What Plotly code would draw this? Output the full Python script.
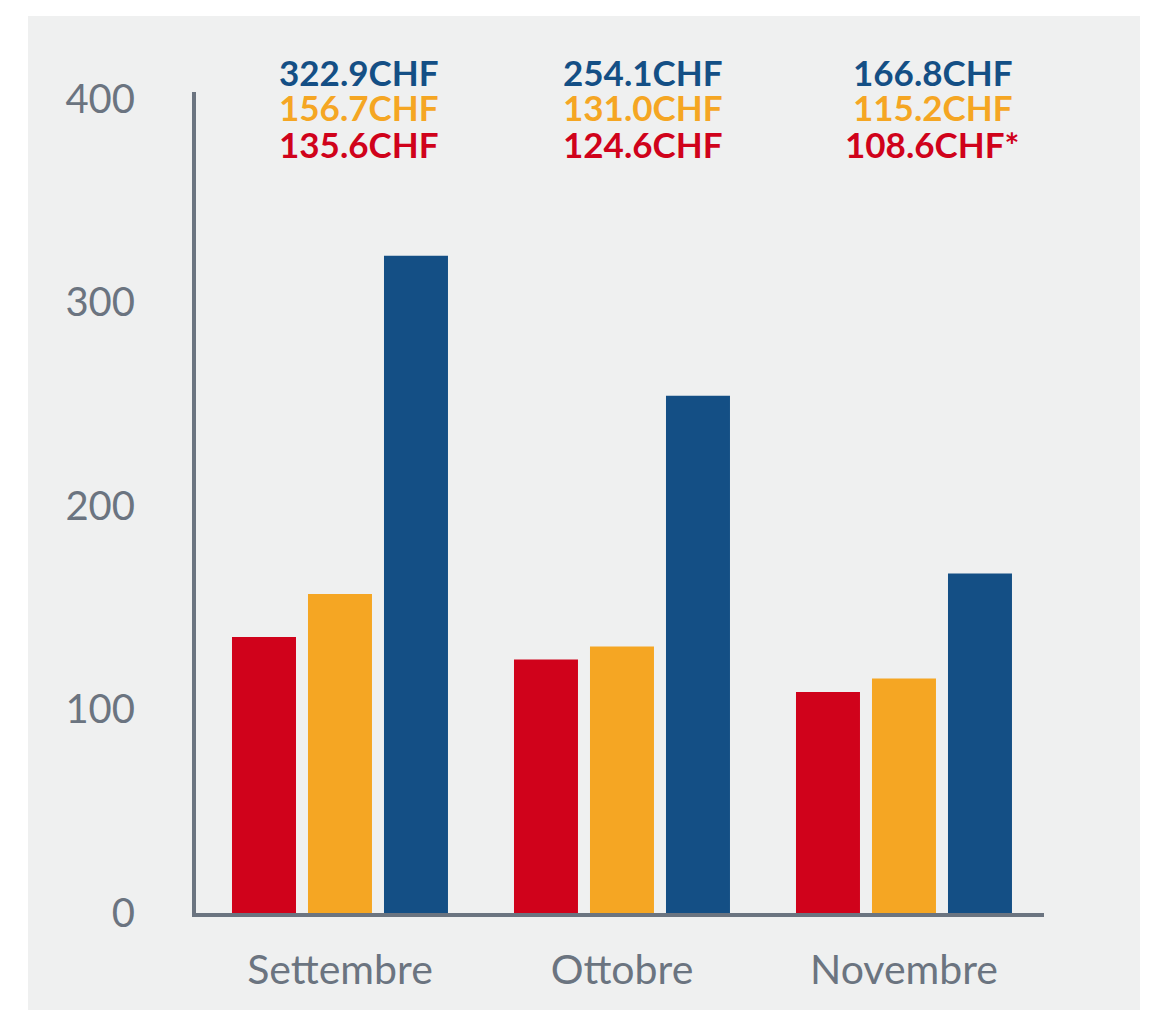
import plotly.graph_objects as go

months = ["Settembre", "Ottobre", "Novembre"]
series_names = ["Rosso", "Arancio", "Blu"]
red_vals = [135.6, 124.6, 108.6]
orange_vals = [156.7, 131.0, 115.2]
blue_vals = [322.9, 254.1, 166.8]
red_labels = ["135.6CHF", "124.6CHF", "108.6CHF*"]
orange_labels = ["156.7CHF", "131.0CHF", "115.2CHF"]
blue_labels = ["322.9CHF", "254.1CHF", "166.8CHF"]
y_ticks = [0, 100, 200, 300, 400]

RED = "#d0021b"
ORANGE = "#f5a623"
BLUE = "#144f85"
AXIS = "#6b7480"
PANEL = "#eff0f0"

fig = go.Figure()
for name, vals, col in [(series_names[0], red_vals, RED),
                        (series_names[1], orange_vals, ORANGE),
                        (series_names[2], blue_vals, BLUE)]:
    fig.add_trace(go.Bar(x=list(range(len(months))), y=vals, name=name,
                         marker=dict(color=col, line=dict(width=0)),
                         hoverinfo="skip"))

# page has an 8px body margin; figure coordinates = page coordinates - 8
OFF = 8
W, H = 1160 - OFF, 1010 - OFF
L = 196 - OFF
T = 92 - OFF
R = W - (1044 - OFF)
B = H - (913 - OFF)
pw, ph = W - L - R, H - T - B

def px2x(px):
    return (px - OFF - L) / pw

def py2y(py):
    return (H - B - (py - OFF)) / ph

fig.add_shape(type="rect", xref="paper", yref="paper",
              x0=px2x(28), x1=px2x(1140), y0=py2y(1012), y1=py2y(16),
              fillcolor=PANEL, line=dict(width=0), layer="below")

offsets = [0.064, 0.074, 0.1]
rows = [(blue_labels, BLUE, 72), (orange_labels, ORANGE, 107), (red_labels, RED, 144)]
for labels, col, ypx in rows:
    for i, lab in enumerate(labels):
        fig.add_annotation(x=i + offsets[i], xref="x", y=py2y(ypx), yref="paper",
                           text="<b>" + lab + "</b>", showarrow=False,
                           xanchor="center", yanchor="middle",
                           font=dict(family="Lato", size=35, color=col))

fig.update_layout(
    width=W, height=H,
    margin=dict(l=L, r=R, t=T, b=B, pad=0),
    paper_bgcolor="white",
    plot_bgcolor="rgba(0,0,0,0)",
    barmode="group",
    bargap=0.1915,
    bargroupgap=0.158,
    showlegend=False,
    font=dict(family="Lato", color=AXIS),
    xaxis=dict(range=[-0.5106, 2.4965], tickmode="array",
               tickvals=list(range(len(months))), ticktext=months,
               showgrid=False, zeroline=False, showline=True,
               linecolor=AXIS, linewidth=4, ticks="",
               tickfont=dict(family="Lato", size=41, color=AXIS),
               ticklabelstandoff=18, fixedrange=True),
    yaxis=dict(range=[0, 403.4], tickmode="array", tickvals=y_ticks,
               showgrid=False, zeroline=False, showline=True,
               linecolor=AXIS, linewidth=4, ticks="",
               tickfont=dict(family="Lato", size=40, color=AXIS),
               ticklabelstandoff=49, fixedrange=True),
)

fig.write_html("out.html")
